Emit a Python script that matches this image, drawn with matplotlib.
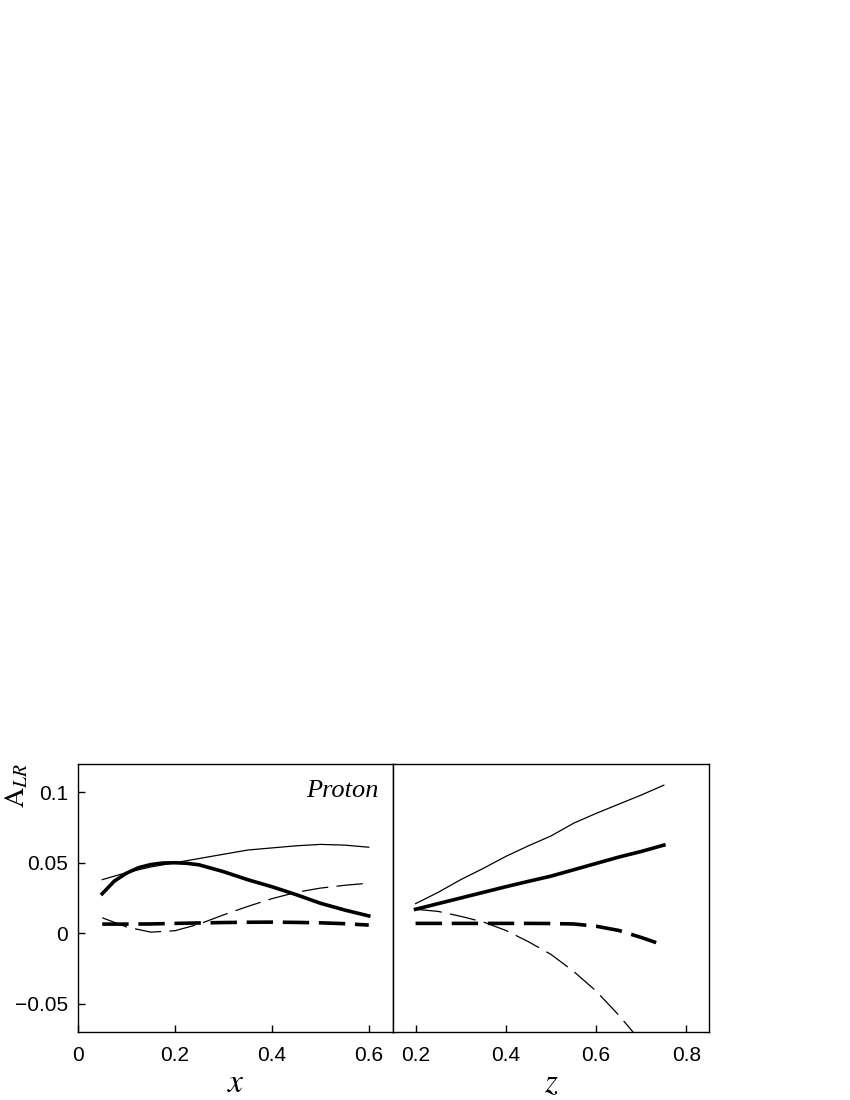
import numpy as np
import matplotlib
matplotlib.use('Agg')
import matplotlib.pyplot as plt

plt.rcParams['font.family'] = ['Liberation Sans', 'DejaVu Sans']
plt.rcParams['mathtext.fontset'] = 'stix'
plt.rcParams['lines.scale_dashes'] = False

# Left panel: A_LR vs x (proton)
x_vals = [0.05, 0.10, 0.15, 0.20, 0.25, 0.30, 0.35, 0.40, 0.45, 0.50, 0.55, 0.60]
x_thin_solid = [0.038, 0.043, 0.047, 0.050, 0.053, 0.056, 0.059, 0.0605, 0.062, 0.063, 0.0625, 0.061]
x_thin_dash = [0.011, 0.0045, 0.0008, 0.0018, 0.0065, 0.013, 0.019, 0.0245, 0.029, 0.032, 0.034, 0.0355]
x_thick_dash = [0.0065, 0.0065, 0.0066, 0.007, 0.0073, 0.0076, 0.0078, 0.0079, 0.0077, 0.0074, 0.0068, 0.0058]
# thick solid read on a finer grid near its peak
xs_thick = [0.05, 0.075, 0.10, 0.125, 0.15, 0.175, 0.20, 0.225, 0.25, 0.30, 0.35, 0.40, 0.45, 0.50, 0.55, 0.60]
x_thick_solid = [0.028, 0.037, 0.0426, 0.0465, 0.0487, 0.0498, 0.050, 0.0496, 0.0485, 0.0437, 0.038, 0.033, 0.0274, 0.0213, 0.0165, 0.0123]

# Right panel: A_LR vs z
z_vals = [0.20, 0.25, 0.30, 0.35, 0.40, 0.45, 0.50, 0.55, 0.60, 0.65, 0.70, 0.75]
z_thin_solid = [0.021, 0.029, 0.038, 0.046, 0.0545, 0.062, 0.069, 0.078, 0.085, 0.0915, 0.098, 0.105]
z_thick_solid = [0.017, 0.021, 0.025, 0.029, 0.033, 0.0368, 0.0405, 0.045, 0.0495, 0.054, 0.058, 0.0625]
z_thin_dash = [0.017, 0.0155, 0.012, 0.008, 0.002, -0.006, -0.015, -0.027, -0.041, -0.058, -0.077, -0.098]
z_thick_dash = [0.007, 0.007, 0.007, 0.007, 0.007, 0.007, 0.0069, 0.0066, 0.005, 0.002, -0.003, -0.0085]

y_ticks = [-0.05, 0, 0.05, 0.1]
y_ticklabels = ['\u22120.05', '0', '0.05', '0.1']
x_ticks = [0, 0.2, 0.4, 0.6]
x_ticklabels = ['0', '0.2', '0.4', '0.6']
z_ticks = [0.2, 0.4, 0.6, 0.8]
z_ticklabels = ['0.2', '0.4', '0.6', '0.8']

fig = plt.figure(figsize=(8.5, 11), dpi=100)
ax1 = fig.add_axes([78/850, 1 - 1032/1100, 315/850, 268/1100])
ax2 = fig.add_axes([393/850, 1 - 1032/1100, 316/850, 268/1100])

thick = 2.6
thin = 0.9

# left panel curves
ax1.plot(x_vals, x_thin_solid, color='black', lw=thin)
ax1.plot(xs_thick, x_thick_solid, color='black', lw=thick)
ax1.plot(x_vals, x_thin_dash, color='black', lw=thin, dashes=(19, 6))
ax1.plot(x_vals, x_thick_dash, color='black', lw=thick, dashes=(19, 7))

# right panel curves
ax2.plot(z_vals, z_thin_solid, color='black', lw=thin)
ax2.plot(z_vals, z_thick_solid, color='black', lw=thick)
ax2.plot(z_vals, z_thin_dash, color='black', lw=thin, dashes=(19, 6))
ax2.plot(z_vals, z_thick_dash, color='black', lw=thick, dashes=(19, 7))

for ax in (ax1, ax2):
    ax.set_ylim(-0.07, 0.12)
    for s in ax.spines.values():
        s.set_linewidth(1.0)
    ax.tick_params(direction='in', length=5, width=1, labelsize=15, pad=10)

ax1.set_xlim(0, 0.65)
ax1.set_xticks(x_ticks)
ax1.set_xticklabels(x_ticklabels)
ax1.set_yticks(y_ticks)
ax1.set_yticklabels(y_ticklabels)
ax1.tick_params(axis='y', pad=7)

ax2.set_xlim(0.15, 0.85)
ax2.set_xticks(z_ticks)
ax2.set_xticklabels(z_ticklabels)
ax2.set_yticks([])

ax1.set_xlabel('$x$', fontsize=24, labelpad=2)
ax2.set_xlabel('$z$', fontsize=24, labelpad=2)
ax1.set_ylabel(r'$\mathrm{A}_{LR}$', fontsize=20, rotation=90)
ax1.yaxis.set_label_coords(-0.15, 0.92)

ax1.text(0.955, 0.9, 'Proton', transform=ax1.transAxes, ha='right', va='center',
         fontsize=19, family='Liberation Serif', style='italic')

fig.savefig('out.png', dpi=100)
